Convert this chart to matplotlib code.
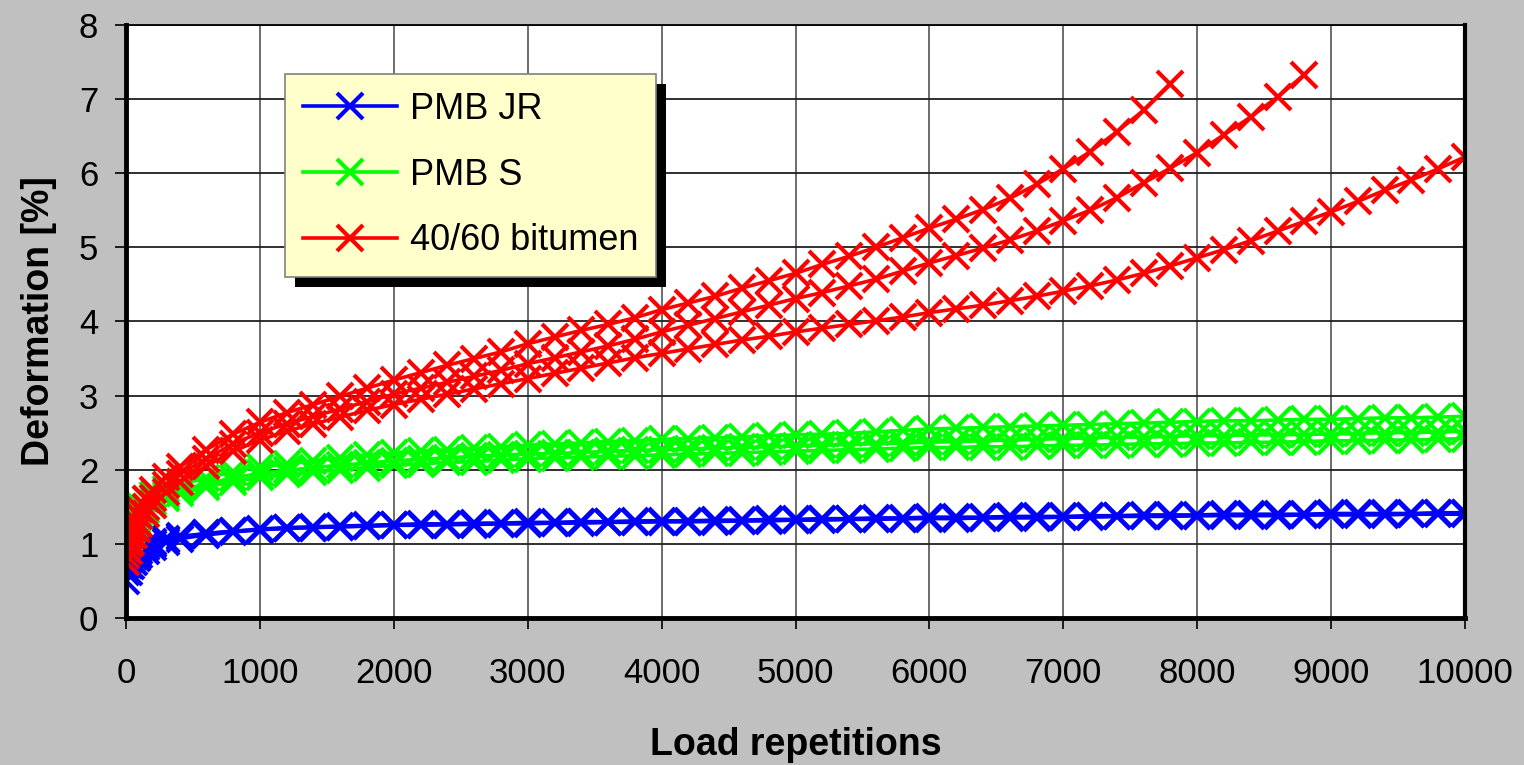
import matplotlib
matplotlib.use("Agg")
import matplotlib.pyplot as plt
from matplotlib.patches import Rectangle

plt.rcParams['font.family'] = ['Liberation Sans', 'DejaVu Sans']

# load repetitions where readings were taken
load_reps = [0, 20, 40, 60, 80, 100, 150, 200, 300, 400,
             600, 800, 1000, 1200, 1400, 1600, 1800, 2000, 2200, 2400,
             2600, 2800, 3000, 3200, 3400, 3600, 3800, 4000, 4200, 4400,
             4600, 4800, 5000, 5200, 5400, 5600, 5800, 6000, 6200, 6400,
             6600, 6800, 7000, 7200, 7400, 7600, 7800, 8000, 8200, 8400,
             8600, 8800, 9000, 9200, 9400, 9600, 9800, 10000]

# PMB JR (3 specimens)
pmb_jr_1 = [0.50, 0.62, 0.70, 0.76, 0.81, 0.85, 0.91, 0.96, 1.02, 1.07,
            1.12, 1.16, 1.19, 1.21, 1.22, 1.23, 1.24, 1.25, 1.26, 1.26,
            1.27, 1.27, 1.28, 1.28, 1.29, 1.29, 1.30, 1.30, 1.30, 1.31,
            1.31, 1.32, 1.32, 1.33, 1.33, 1.34, 1.34, 1.35, 1.35, 1.35,
            1.36, 1.36, 1.36, 1.37, 1.37, 1.38, 1.38, 1.38, 1.39, 1.39,
            1.39, 1.39, 1.40, 1.40, 1.40, 1.40, 1.41, 1.41]
pmb_jr_2 = [0.62, 0.72, 0.79, 0.84, 0.88, 0.91, 0.96, 1.00, 1.05, 1.09,
            1.14, 1.17, 1.20, 1.22, 1.23, 1.24, 1.25, 1.26, 1.27, 1.27,
            1.28, 1.28, 1.29, 1.29, 1.30, 1.30, 1.31, 1.31, 1.31, 1.32,
            1.32, 1.33, 1.33, 1.34, 1.34, 1.35, 1.35, 1.36, 1.36, 1.36,
            1.37, 1.37, 1.37, 1.38, 1.38, 1.39, 1.39, 1.39, 1.40, 1.40,
            1.40, 1.40, 1.41, 1.41, 1.41, 1.41, 1.42, 1.42]
pmb_jr_3 = [0.72, 0.80, 0.86, 0.90, 0.93, 0.95, 0.99, 1.02, 1.06, 1.10,
            1.14, 1.17, 1.19, 1.21, 1.22, 1.23, 1.24, 1.25, 1.25, 1.26,
            1.26, 1.27, 1.27, 1.28, 1.28, 1.29, 1.29, 1.30, 1.30, 1.30,
            1.31, 1.31, 1.32, 1.32, 1.33, 1.33, 1.34, 1.34, 1.34, 1.35,
            1.35, 1.35, 1.36, 1.36, 1.37, 1.37, 1.37, 1.38, 1.38, 1.38,
            1.38, 1.39, 1.39, 1.39, 1.39, 1.40, 1.40, 1.40]

# PMB S (3 specimens)
pmb_s_1 = [1.20, 1.30, 1.38, 1.44, 1.49, 1.53, 1.60, 1.66, 1.74, 1.80,
           1.89, 1.97, 2.04, 2.08, 2.12, 2.16, 2.20, 2.23, 2.25, 2.27,
           2.29, 2.31, 2.33, 2.35, 2.36, 2.38, 2.39, 2.41, 2.42, 2.43,
           2.44, 2.46, 2.47, 2.48, 2.49, 2.51, 2.53, 2.55, 2.56, 2.57,
           2.58, 2.59, 2.60, 2.61, 2.62, 2.63, 2.64, 2.65, 2.66, 2.66,
           2.67, 2.68, 2.68, 2.69, 2.70, 2.70, 2.71, 2.72]
pmb_s_2 = [1.05, 1.17, 1.26, 1.33, 1.38, 1.42, 1.50, 1.57, 1.66, 1.72,
           1.81, 1.89, 1.95, 1.99, 2.03, 2.06, 2.09, 2.12, 2.14, 2.16,
           2.18, 2.20, 2.21, 2.22, 2.23, 2.25, 2.26, 2.27, 2.28, 2.29,
           2.30, 2.31, 2.32, 2.33, 2.34, 2.35, 2.36, 2.37, 2.38, 2.39,
           2.40, 2.41, 2.42, 2.43, 2.44, 2.44, 2.45, 2.46, 2.46, 2.47,
           2.47, 2.48, 2.48, 2.49, 2.50, 2.50, 2.51, 2.52]
pmb_s_3 = [0.95, 1.08, 1.18, 1.26, 1.32, 1.37, 1.46, 1.53, 1.62, 1.68,
           1.77, 1.84, 1.90, 1.94, 1.97, 2.00, 2.03, 2.06, 2.08, 2.10,
           2.11, 2.13, 2.15, 2.16, 2.17, 2.18, 2.19, 2.20, 2.21, 2.22,
           2.23, 2.24, 2.25, 2.26, 2.27, 2.28, 2.29, 2.30, 2.30, 2.31,
           2.31, 2.32, 2.33, 2.33, 2.34, 2.35, 2.35, 2.36, 2.36, 2.37,
           2.37, 2.38, 2.39, 2.39, 2.40, 2.40, 2.41, 2.42]

# 40/60 bitumen (3 specimens, two stopped early)
bit_1 = [0.95, 1.10, 1.22, 1.32, 1.40, 1.47, 1.60, 1.72, 1.90, 2.04,
         2.27, 2.48, 2.64, 2.77, 2.88, 2.99, 3.10, 3.21, 3.31, 3.41,
         3.50, 3.59, 3.70, 3.79, 3.88, 3.96, 4.05, 4.16, 4.25, 4.34,
         4.45, 4.55, 4.65, 4.77, 4.88, 5.00, 5.13, 5.26, 5.38, 5.51,
         5.66, 5.85, 6.06, 6.29, 6.56, 6.85, 7.20]
bit_2 = [0.85, 1.00, 1.12, 1.22, 1.30, 1.37, 1.50, 1.62, 1.80, 1.94,
         2.15, 2.35, 2.50, 2.62, 2.72, 2.82, 2.92, 3.02, 3.10, 3.18,
         3.26, 3.34, 3.43, 3.51, 3.59, 3.67, 3.76, 3.86, 3.95, 4.04,
         4.13, 4.22, 4.31, 4.39, 4.48, 4.57, 4.68, 4.79, 4.89, 4.99,
         5.10, 5.22, 5.36, 5.50, 5.67, 5.87, 6.07, 6.28, 6.52, 6.76,
         7.03, 7.33]
bit_3 = [0.75, 0.90, 1.02, 1.12, 1.20, 1.27, 1.40, 1.52, 1.70, 1.84,
         2.05, 2.25, 2.40, 2.52, 2.62, 2.71, 2.80, 2.88, 2.95, 3.02,
         3.09, 3.16, 3.23, 3.30, 3.37, 3.44, 3.51, 3.57, 3.63, 3.69,
         3.75, 3.80, 3.86, 3.91, 3.96, 4.01, 4.06, 4.12, 4.17, 4.22,
         4.28, 4.34, 4.41, 4.48, 4.56, 4.65, 4.75, 4.86, 4.97, 5.09,
         5.22, 5.35, 5.48, 5.62, 5.77, 5.91, 6.06, 6.22]

groups = [
    ("PMB JR", "#0000FF", [pmb_jr_1, pmb_jr_2, pmb_jr_3]),
    ("PMB S", "#00FF00", [pmb_s_1, pmb_s_2, pmb_s_3]),
    ("40/60 bitumen", "#FF0000", [bit_1, bit_2, bit_3]),
]

fig = plt.figure(figsize=(15.24, 7.65), dpi=100, facecolor="#C0C0C0")
ax = fig.add_axes([0.0827, 0.1922, 0.8786, 0.7751])
ax.set_facecolor("white")

handles = []
for name, color, series in groups:
    for i, ys in enumerate(series):
        line, = ax.plot(load_reps[:len(ys)], ys, color=color, lw=2.6,
                        marker="x", ms=19, mew=3.0,
                        label=name if i == 0 else None, zorder=2)
        if i == 0:
            handles.append(line)

ax.set_xlim(0, 10000)
ax.set_ylim(0, 8)
ax.set_xticks(range(0, 10001, 1000))
ax.set_yticks(range(0, 9))
ax.set_axisbelow(True)
ax.yaxis.grid(True, color="#202020", lw=1.3)
ax.xaxis.grid(True, color="#606060", lw=1.3)

ax.tick_params(axis="both", direction="out", length=8, width=1.2,
               labelsize=25, colors="black")
ax.tick_params(axis="y", pad=12)
ax.tick_params(axis="x", pad=20)

for side, w in [("left", 3.5), ("bottom", 3.5), ("right", 3), ("top", 1.3)]:
    ax.spines[side].set_linewidth(w)
    ax.spines[side].set_color("black")

ax.set_xlabel("Load repetitions", fontsize=27, fontweight="bold", labelpad=27)
ax.set_ylabel("Deformation [%]", fontsize=27, fontweight="bold", labelpad=16)

leg = ax.legend(handles=handles, loc="upper left",
                bbox_to_anchor=(285 / 1524, 1 - 74 / 765),
                bbox_transform=fig.transFigure,
                fontsize=26, frameon=True, fancybox=False,
                facecolor="#FFFFCC", edgecolor="#808080", framealpha=1,
                handlelength=2.6, handletextpad=0.35, labelspacing=0.85,
                borderpad=0.5, borderaxespad=0)
leg.get_frame().set_linewidth(1.2)
leg.set_zorder(6)

# drop shadow behind the legend box
fig.canvas.draw()
bb = leg.get_window_extent().transformed(ax.transAxes.inverted())
shadow = Rectangle((bb.x0 + 10 / (0.8786 * 1524), bb.y0 - 10 / (0.7751 * 765)),
                   bb.width, bb.height, transform=ax.transAxes,
                   facecolor="black", edgecolor="none", zorder=5, clip_on=False)
ax.add_patch(shadow)

fig.savefig("out.png", dpi=100, facecolor=fig.get_facecolor())
